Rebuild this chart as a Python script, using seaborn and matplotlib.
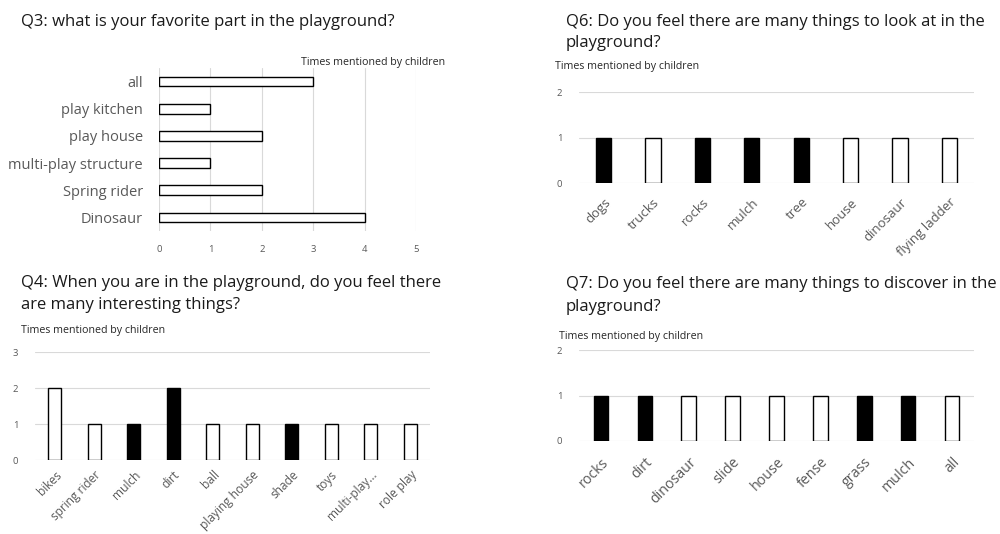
import matplotlib
matplotlib.use("Agg")
import matplotlib.pyplot as plt
import seaborn as sns
import pandas as pd

sns.set_theme(style="white")
plt.rcParams["font.family"] = ["Open Sans", "DejaVu Sans"]

# Q3: favourite part of the playground
q3_parts = ["all", "play kitchen", "play house", "multi-play structure", "Spring rider", "Dinosaur"]
q3_counts = [3, 1, 2, 1, 2, 4]

# Q4: interesting things
q4_things = ["bikes", "spring rider", "mulch", "dirt", "ball", "playing house",
             "shade", "toys", "multi-play...", "role play"]
q4_counts = [2, 1, 1, 2, 1, 1, 1, 1, 1, 1]
q4_natural = [False, False, True, True, False, False, True, False, False, False]

# Q6: things to look at
q6_things = ["dogs", "trucks", "rocks", "mulch", "tree", "house", "dinosaur", "flying ladder"]
q6_counts = [1, 1, 1, 1, 1, 1, 1, 1]
q6_natural = [True, False, True, True, True, False, False, False]

# Q7: things to discover
q7_things = ["rocks", "dirt", "dinosaur", "slide", "house", "fense", "grass", "mulch", "all"]
q7_counts = [1, 1, 1, 1, 1, 1, 1, 1, 1]
q7_natural = [True, True, False, False, False, False, True, True, False]

TITLE = "#1a1a1a"
TICK = "#595959"
GRID = "#d9d9d9"
W, H = 1000, 534

fig = plt.figure(figsize=(W / 100, H / 100), dpi=100)


def px_axes(left, top, right, bottom):
    return fig.add_axes([left / W, 1 - bottom / H, (right - left) / W, (bottom - top) / H])


def title(x, y, text, size=12):
    fig.text(x / W, 1 - y / H, text, fontsize=size, color=TITLE, va="baseline", ha="left")


def small(x, y, text):
    fig.text(x / W, 1 - y / H, text, fontsize=7.7, color="#262626", va="center", ha="left")


def style(ax):
    for s in ax.spines.values():
        s.set_visible(False)
    ax.set_xlabel("")
    ax.set_ylabel("")


def column_chart(ax, cats, counts, natural, ymax, label_size, width, pad):
    df = pd.DataFrame({"thing": cats, "count": counts,
                       "kind": ["natural" if n else "built" for n in natural]})
    sns.barplot(data=df, x="thing", y="count", hue="kind",
                palette={"natural": "black", "built": "white"},
                edgecolor="black", linewidth=1.0, width=width, dodge=False,
                legend=False, ax=ax)
    style(ax)
    ax.set_ylim(0, ymax)
    ax.set_xlim(-0.5, len(cats) - 0.5)
    ax.set_yticks(range(ymax + 1))
    ax.yaxis.grid(True, color=GRID, linewidth=0.8)
    ax.set_axisbelow(True)
    ax.tick_params(axis="y", labelsize=6.8, labelcolor=TICK, length=0, pad=12)
    ax.tick_params(axis="x", labelsize=label_size, labelcolor=TICK, length=0, pad=pad)
    for lab in ax.get_xticklabels():
        lab.set_rotation(45)
        lab.set_ha("right")
        lab.set_rotation_mode("anchor")


# ---- Q3 (horizontal bars) ----
ax3 = px_axes(159, 68, 416, 231)
sns.barplot(x=q3_counts, y=q3_parts, orient="h", color="white",
            edgecolor="black", linewidth=1.0, width=0.35, ax=ax3)
style(ax3)
ax3.set_xlim(0, 5)
ax3.set_ylim(5.5, -0.5)
ax3.set_xticks(range(6))
ax3.xaxis.grid(True, color=GRID, linewidth=0.8)
ax3.set_axisbelow(True)
ax3.tick_params(axis="x", labelsize=6.8, labelcolor=TICK, length=0, pad=10)
ax3.tick_params(axis="y", labelsize=10.5, labelcolor=TICK, length=0, pad=11.5)
title(21, 26, "Q3: what is your favorite part in the playground?")
small(301, 62, "Times mentioned by children")

# ---- Q4 ----
ax4 = px_axes(35, 352, 430, 460)
column_chart(ax4, q4_things, q4_counts, q4_natural, 3, 8.6, 0.34, 6)
title(21, 287, "Q4: When you are in the playground, do you feel there")
title(21, 309, "are many interesting things?")
small(21, 331, "Times mentioned by children")

# ---- Q6 ----
ax6 = px_axes(579, 92, 974, 183)
column_chart(ax6, q6_things, q6_counts, q6_natural, 2, 9.5, 0.31, 9)
title(566, 26, "Q6: Do you feel there are many things to look at in the")
title(566, 47, "playground?")
small(555, 67, "Times mentioned by children")

# ---- Q7 ----
ax7 = px_axes(579, 350, 974, 441)
column_chart(ax7, q7_things, q7_counts, q7_natural, 2, 10.3, 0.33, 10)
title(566, 288, "Q7: Do you feel there are many things to discover in the")
title(566, 311, "playground?")
small(559, 336, "Times mentioned by children")

fig.savefig("out.png", dpi=100, facecolor="white")
